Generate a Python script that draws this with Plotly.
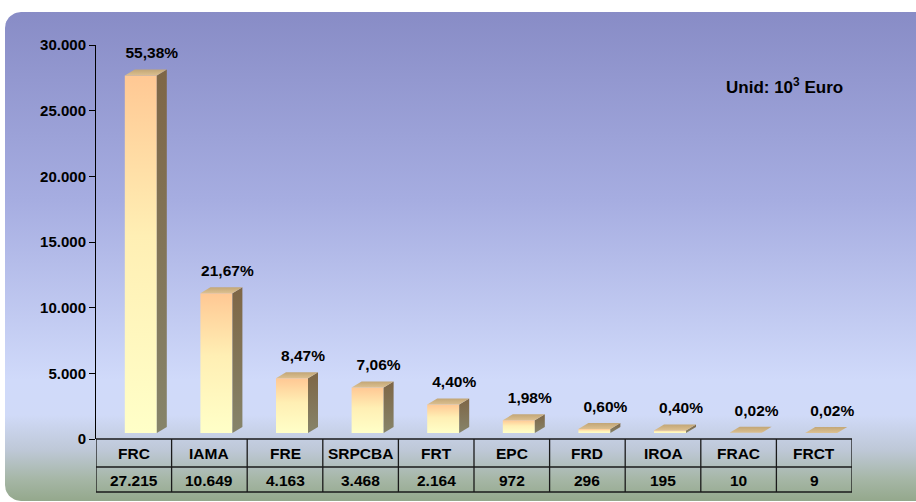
import numpy as np
import plotly.graph_objects as go

# ---------------- data ----------------
categories = ["FRC", "IAMA", "FRE", "SRPCBA", "FRT", "EPC", "FRD", "IROA", "FRAC", "FRCT"]
values = [27215, 10649, 4163, 3468, 2164, 972, 296, 195, 10, 9]
percent_labels = ["55,38%", "21,67%", "8,47%", "7,06%", "4,40%", "1,98%",
                  "0,60%", "0,40%", "0,02%", "0,02%"]
y_ticks = [0, 5000, 10000, 15000, 20000, 25000, 30000]
unit_label = "Unid: 10<sup>3</sup> Euro"

# ---------------- geometry (pixels) ----------------
W, H = 916, 502
PX0, PX1 = 96, 852          # plot area left/right
PY0, PY1 = 439, 45          # pixel rows of y=0 and y=30000
YMAX = 30000
ky = YMAX / (PY0 - PY1)     # data units per pixel (vertical)
kx = len(categories) / (PX1 - PX0)  # category units per pixel

FONT = "Liberation Sans, Arial, sans-serif"

fig = go.Figure()

# ---------------- background rounded panel with gradient ----------------
def rounded_rect(x0, y0, x1, y1, r, n=12):
    xs, ys = [], []
    corners = [(x1 - r, y1 - r, 0, 90), (x0 + r, y1 - r, 90, 180),
               (x0 + r, y0 + r, 180, 270), (x1 - r, y0 + r, 270, 360)]
    for cx, cy, a0, a1 in corners:
        t = np.radians(np.linspace(a0, a1, n))
        xs += list(cx + r * np.cos(t))
        ys += list(cy + r * np.sin(t))
    xs.append(xs[0]); ys.append(ys[0])
    return xs, ys

bx, by = rounded_rect(5, H - 501, W + 30, H - 12, 16)
bg_scale = [
    [0.000, "rgb(148,168,140)"],
    [0.043, "rgb(165,182,165)"],
    [0.104, "rgb(190,200,215)"],
    [0.176, "rgb(208,218,248)"],
    [0.247, "rgb(208,218,250)"],
    [0.616, "rgb(166,173,225)"],
    [1.000, "rgb(136,140,198)"],
]
fig.add_trace(go.Scatter(
    x=bx, y=by, mode="lines", line=dict(width=0), fill="toself",
    fillgradient=dict(type="vertical", colorscale=bg_scale, start=H - 501, stop=H - 12),
    xaxis="x", yaxis="y", hoverinfo="skip"))

# ---------------- 3D bars ----------------
base = 6 * ky               # front face baseline raised by 6 px
dx = 10 * kx                # depth offset
dy = 6 * ky
front_l = -9 * kx
front_r = 23 * kx

front_scale = [[0, "#ffffc8"], [0.55, "#ffefb4"], [1, "#ffc894"]]
side_scale = [[0, "#86846a"], [1, "#7e6646"]]
top_scale = [[0, "#dcc090"], [1, "#c2a676"]]

for i, v in enumerate(values):
    xl, xr = i + front_l, i + front_r
    y0, y1 = base, base + v
    # front face
    fig.add_trace(go.Scatter(
        x=[xl, xr, xr, xl, xl], y=[y0, y0, y1, y1, y0], mode="lines",
        line=dict(width=0), fill="toself",
        fillgradient=dict(type="vertical", colorscale=front_scale),
        xaxis="x2", yaxis="y2", hoverinfo="skip"))
    # side face
    fig.add_trace(go.Scatter(
        x=[xr, xr + dx, xr + dx, xr, xr], y=[y0, y0 + dy, y1 + dy, y1, y0], mode="lines",
        line=dict(width=0), fill="toself",
        fillgradient=dict(type="vertical", colorscale=side_scale),
        xaxis="x2", yaxis="y2", hoverinfo="skip"))
    # top face
    fig.add_trace(go.Scatter(
        x=[xl, xr, xr + dx, xl + dx, xl], y=[y1, y1, y1 + dy, y1 + dy, y1], mode="lines",
        line=dict(width=0), fill="toself",
        fillgradient=dict(type="vertical", colorscale=top_scale),
        xaxis="x2", yaxis="y2", hoverinfo="skip"))

# percentage labels
fig.add_trace(go.Scatter(
    x=[i + 18 * kx for i in range(len(values))],
    y=[base + v + dy + 15 * ky for v in values],
    mode="text", text=percent_labels, textposition="middle center",
    textfont=dict(family=FONT, size=15.5, color="#000", weight="bold"),
    cliponaxis=False, xaxis="x2", yaxis="y2", hoverinfo="skip"))

# ---------------- data table ----------------
def py(px):
    return (H - px) / H

row_top, row_mid, row_bot = 439, 467, 492
shapes = []
line_style = dict(color="#1a1a1a", width=1.3)
for ypx in (row_top, row_mid, row_bot):
    shapes.append(dict(type="line", xref="x2", yref="paper",
                       x0=-0.5, x1=len(categories) - 0.5, y0=py(ypx), y1=py(ypx),
                       line=line_style))
for k in range(len(categories) + 1):
    shapes.append(dict(type="line", xref="x2", yref="paper",
                       x0=k - 0.5, x1=k - 0.5, y0=py(row_top), y1=py(row_bot),
                       line=line_style))

annotations = []
for i, (c, v) in enumerate(zip(categories, values)):
    annotations.append(dict(x=i, y=py(453), xref="x2", yref="paper", text=c,
                            showarrow=False, xanchor="center", yanchor="middle",
                            font=dict(family=FONT, size=15.5, color="#000", weight="bold")))
    annotations.append(dict(x=i, y=py(480), xref="x2", yref="paper",
                            text=f"{v:,}".replace(",", "."),
                            showarrow=False, xanchor="center", yanchor="middle",
                            font=dict(family=FONT, size=15.5, color="#000", weight="bold")))

annotations.append(dict(x=784 / W, y=py(86), xref="paper", yref="paper", text=unit_label,
                        showarrow=False, xanchor="center", yanchor="middle",
                        font=dict(family=FONT, size=17, color="#000", weight="bold")))

fig.update_layout(
    template="none",
    width=W, height=H, autosize=False,
    margin=dict(l=0, r=0, t=0, b=0, pad=0, autoexpand=False),
    paper_bgcolor="white", plot_bgcolor="rgba(0,0,0,0)",
    showlegend=False, hovermode=False,
    separators=",.",
    xaxis=dict(domain=[0, 1], range=[0, W], visible=False, fixedrange=True, automargin=False),
    yaxis=dict(domain=[0, 1], range=[0, H], visible=False, fixedrange=True, automargin=False),
    xaxis2=dict(domain=[PX0 / W, PX1 / W], range=[-0.5, len(categories) - 0.5],
                anchor="y2", visible=False, fixedrange=True, automargin=False),
    yaxis2=dict(domain=[py(PY0), py(PY1)], range=[0, YMAX], anchor="x2",
                tickvals=y_ticks, tickformat=",.0f", automargin=False,
                showline=True, linecolor="#000", linewidth=1,
                ticks="outside", ticklen=6, tickcolor="#000", tickwidth=1,
                showgrid=False, zeroline=False, fixedrange=True,
                tickfont=dict(family=FONT, size=15, color="#000", weight="bold")),
    shapes=shapes, annotations=annotations,
)

fig.write_html("out.html",
               config={"displayModeBar": False, "staticPlot": True},
               post_script="document.body.style.margin='0';document.body.style.overflow='hidden';")
